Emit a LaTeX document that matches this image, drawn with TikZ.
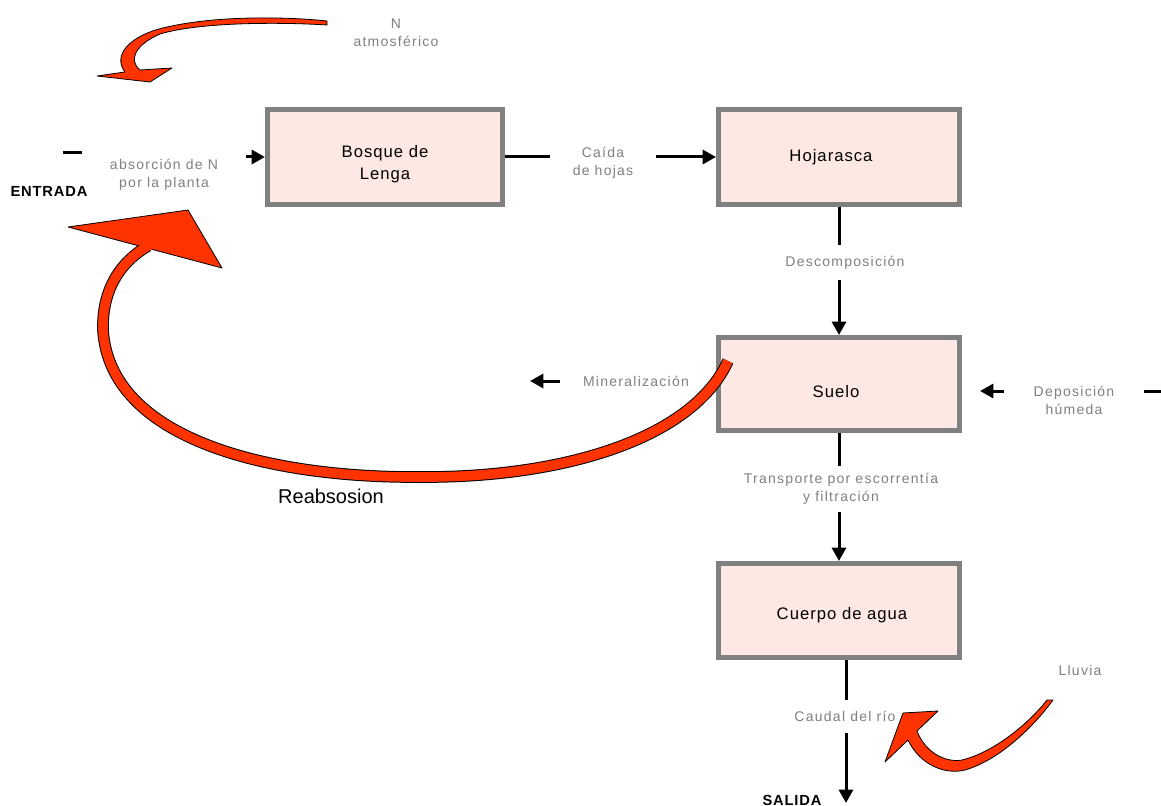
\documentclass[tikz,border=0pt]{standalone}
\usepackage{fontspec}
\setmainfont{Liberation Sans}
\newfontfamily\lblfont[LetterSpace=9]{Liberation Sans}
\newfontfamily\boxfont[LetterSpace=6]{Liberation Sans}
\usetikzlibrary{arrows.meta}
\definecolor{boxfill}{RGB}{253,232,228}
\definecolor{boxline}{RGB}{128,128,128}
\definecolor{flowred}{RGB}{255,51,0}
\definecolor{lblgray}{RGB}{128,128,128}
\begin{document}
\begin{tikzpicture}[x=0.75pt,y=-0.75pt,
  box/.style={draw=boxline, line width=3.75pt, fill=boxfill, inner sep=0pt},
  boxtxt/.style={font=\boxfont\fontsize{12.5pt}{16.5pt}\selectfont, align=center, inner sep=0pt, text=black},
  lbl/.style={font=\lblfont\fontsize{10.5pt}{13.5pt}\selectfont, align=center, inner sep=0pt, text=lblgray},
  io/.style={font=\boxfont\bfseries\fontsize{11pt}{13pt}\selectfont, inner sep=0pt, text=black},
  conn/.style={line width=2.25pt, -{Triangle[length=10pt,width=10.5pt]}},
  plainline/.style={line width=2.25pt},
  redshape/.style={fill=flowred, draw=black, line width=0.6pt, line join=round},
]
\useasboundingbox (0,0) rectangle (1161,806);
\fill[white] (0,0) rectangle (1161,806);

% boxes
\node[box, minimum width=176.25pt, minimum height=71.25pt] (bosque) at (385,157) {};
\node[boxtxt] (bosquet) at (385,164) {Bosque de\\Lenga};
\node[box, minimum width=180.75pt, minimum height=71.25pt] (hoja) at (839,157) {};
\node[boxtxt] (hojat) at (831,157) {Hojarasca};
\node[box, minimum width=180.75pt, minimum height=69.75pt] (suelo) at (839,384) {};
\node[boxtxt] (suelot) at (836,392) {Suelo};
\node[box, minimum width=180.75pt, minimum height=70.5pt] (cuerpo) at (839,610.5) {};
\node[boxtxt] (cuerpot) at (842,615) {Cuerpo de agua};

% labels
\node[lbl] (natm) at (396,33) {N\\atmosférico};
\node[lbl, minimum width=123pt] (absor) at (164,175) {absorción de N\\por la planta};
\node[lbl, minimum width=78.75pt] (caida) at (603,163) {Caída\\de hojas};
\node[lbl, minimum height=26.25pt] (desc) at (845,262.5) {Descomposición};
\node[lbl, minimum width=114pt] (miner) at (636,381) {Mineralización};
\node[lbl, minimum width=105pt] (depos) at (1074,400) {Deposición\\húmeda};
\node[lbl, minimum height=33.75pt] (transp) at (841,489) {Transporte por escorrentía\\y filtración};
\node[lbl, minimum height=24.75pt] (caudal) at (845,716.5) {Caudal del río};
\node[lbl] (lluvia) at (1080,670) {Lluvia};
\node[io] (entrada) at (49,191) {ENTRADA};
\node[io] (salida) at (792,800) {SALIDA};
\node[font=\fontsize{15pt}{18pt}\selectfont, inner sep=0pt] (reab) at (331,496) {Reabsosion};

% free ends
\coordinate (in) at (63,153);
\coordinate (out) at (846,803);
\coordinate (minend) at (530,381);
\coordinate (depin) at (1161,391);
\coordinate (depend) at (980,391);

% connectors
\draw[plainline] (in) -- (absor.west |- in);
\draw[conn] (absor.east |- bosque.west) -- (bosque.west);
\draw[plainline] (bosque.east) -- (caida.west |- bosque.east);
\draw[conn] (caida.east |- hoja.west) -- (hoja.west);
\draw[plainline] (hoja.south) -- (hoja.south |- desc.north);
\draw[conn] (suelo.north |- desc.south) -- (suelo.north);
\draw[plainline] (suelo.south) -- (suelo.south |- transp.north);
\draw[conn] (cuerpo.north |- transp.south) -- (cuerpo.north);
\draw[plainline] (out |- cuerpo.south) -- (out |- caudal.north);
\draw[conn] (out |- caudal.south) -- (out);
\draw[conn] (miner.west) -- (minend);
\draw[plainline] (depin) -- (depos.east |- depin);
\draw[conn] (depos.west |- depin) -- (depend);

% red arrow: atmospheric N
\draw[redshape] (97,76) -- (125,72) .. controls (112,55) and (130,35) .. (167,27)
  .. controls (220,15) and (290,17) .. (327,21) -- (327,25)
  .. controls (280,22) and (200,22) .. (160,34)
  .. controls (135,45) and (128,60) .. (140,70) -- (172,68) -- (150,82) -- cycle;

% red arrow: reabsorption
\draw[line width=8.75pt, black] (728,361) .. controls (692,440) and (560,478) .. (420,477)
  .. controls (270,478) and (110,440) .. (103,330)
  .. controls (102,290) and (120,262) .. (148,246);
\draw[redshape] (68,227) -- (188,210) -- (222,268) -- cycle;
\draw[line width=7.25pt, flowred] (728,361) .. controls (692,440) and (560,478) .. (420,477)
  .. controls (270,478) and (110,440) .. (103,330)
  .. controls (102,290) and (120,262) .. (148,246) -- (154,242.5);

% red arrow: rain
\draw[redshape] (885,762) -- (908,740) .. controls (920,765) and (945,775) .. (965,770)
  .. controls (1000,760) and (1035,725) .. (1053,700) -- (1047,700)
  .. controls (1030,722) and (995,752) .. (962,760)
  .. controls (945,763) and (925,752) .. (917,731) -- (938,711) -- (903,713) -- cycle;
\end{tikzpicture}
\end{document}
